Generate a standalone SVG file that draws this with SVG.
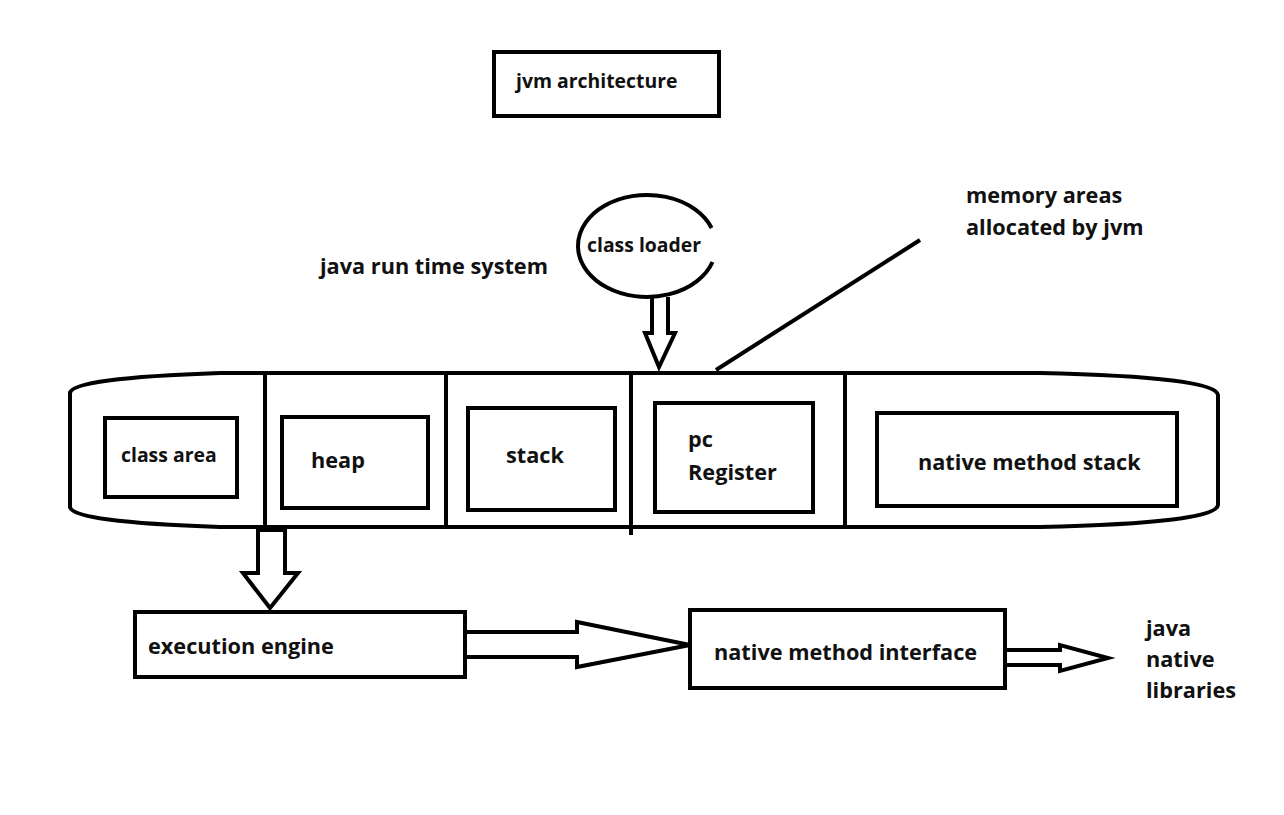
<svg xmlns="http://www.w3.org/2000/svg" width="1284" height="815" viewBox="0 0 1284 815">
<style>
.b{fill:#fff;stroke:#000;stroke-width:4}
.l{fill:none;stroke:#000;stroke-width:4}
.t{font-family:"Open Sans","Noto Sans","Liberation Sans",sans-serif;font-weight:bold;font-size:21.7px;fill:#111}
.s{font-size:19.4px}
</style>
<rect width="1284" height="815" fill="#fff"/>
<g id="title"><rect class="b" x="494" y="52" width="225" height="64"/><text class="t s" x="516" y="88">jvm architecture</text></g>
<g id="classloader"><path class="l" d="M 712.5 262 A 69 51 0 1 1 711.6 228"/><text class="t s" x="587" y="252">class loader</text></g>
<g id="runtime-label"><text class="t" x="320" y="274">java run time system</text></g>
<g id="memory-label"><text class="t" x="966" y="203">memory areas</text><text class="t" x="966" y="235">allocated by jvm</text></g>
<g id="runtime">
<path class="l" d="M 220 373 L 1040 373 Q 1216 377 1218 395 L 1218 505 Q 1216 523 1040 527 L 220 527 Q 72 522 70 507 L 70 393 Q 72 378 220 373 Z"/>
<line class="l" x1="265" y1="373" x2="265" y2="527"/>
<line class="l" x1="446" y1="373" x2="446" y2="527"/>
<line class="l" x1="631" y1="373" x2="631" y2="535"/>
<line class="l" x1="845" y1="373" x2="845" y2="527"/>
</g>
<g id="classarea"><rect class="b" x="105" y="418" width="132" height="79"/><text class="t s" x="121" y="462">class area</text></g>
<g id="heap"><rect class="b" x="282" y="417" width="146" height="91"/><text class="t" x="311" y="468">heap</text></g>
<g id="stack"><rect class="b" x="468" y="408" width="147" height="102"/><text class="t" x="506" y="463">stack</text></g>
<g id="pcregister"><rect class="b" x="655" y="403" width="158" height="109"/><text class="t" x="688" y="447">pc</text><text class="t" x="688" y="480">Register</text></g>
<g id="nativestack"><rect class="b" x="877" y="413" width="300" height="93"/><text class="t" x="918" y="470">native method stack</text></g>
<g id="engine"><rect class="b" x="135" y="612" width="330" height="65"/><text class="t" x="148" y="654">execution engine</text></g>
<g id="nmi"><rect class="b" x="690" y="610" width="315" height="78"/><text class="t" x="714" y="660">native method interface</text></g>
<g id="libs"><text class="t" x="1146" y="636">java</text><text class="t" x="1146" y="667">native</text><text class="t" x="1146" y="698">libraries</text></g>
<g id="connectors">
<path class="l" d="M 652 297 L 652 333 L 645 333 L 659 367 L 675 333 L 668 333 L 668 297"/>
<line class="l" x1="716" y1="370" x2="920" y2="240"/>
<path class="l" d="M 258 530 L 258 573 L 243 573 L 270 608 L 298 573 L 285 573 L 285 530 Z"/>
<path class="l" d="M 465 632 L 577 632 L 577 622 L 690 645 L 577 667 L 577 657 L 465 657"/>
<path class="l" d="M 1005 650 L 1060 650 L 1060 645 L 1108 658 L 1060 671 L 1060 665 L 1005 665"/>
</g>
</svg>
